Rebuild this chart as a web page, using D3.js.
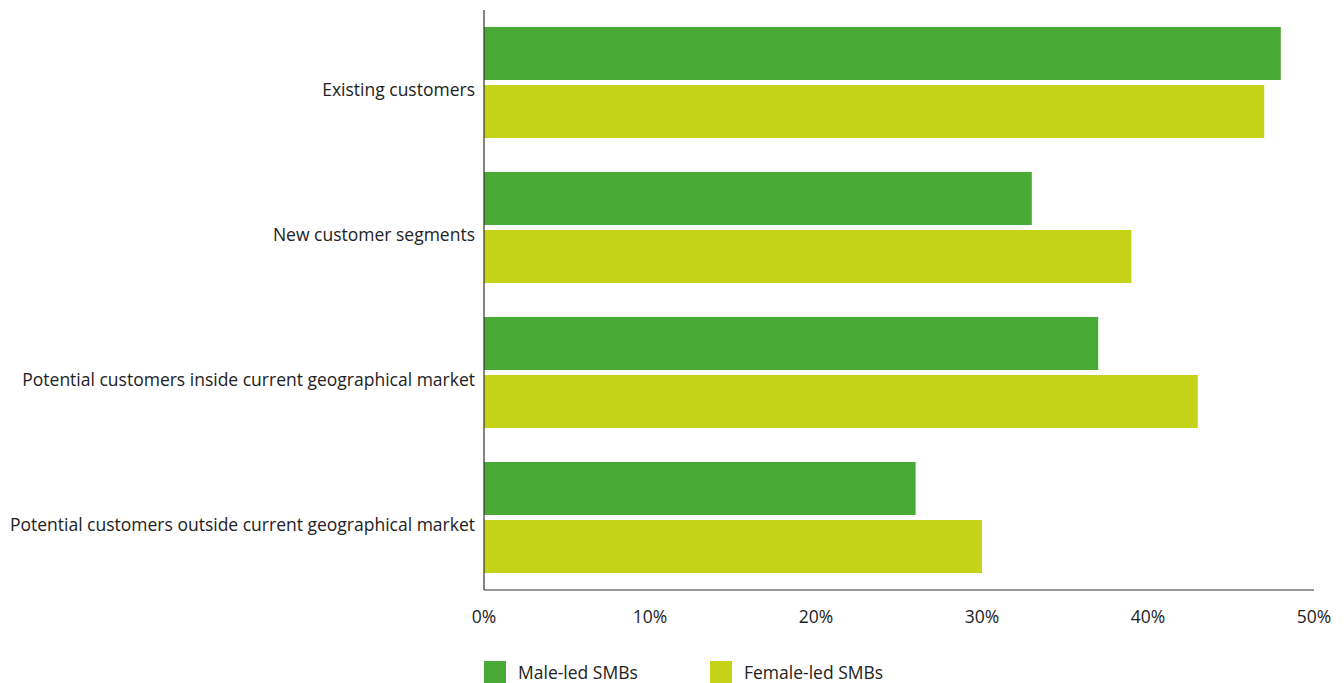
<!DOCTYPE html>
<html>
<head>
<meta charset="utf-8">
<script src="https://cdn.jsdelivr.net/npm/d3@7"></script>
<style>
  body { margin: 0; background: #fff; }
  text { font-family: "Open Sans", sans-serif; fill: #222; }
</style>
</head>
<body>
<svg id="chart"></svg>
<script>
const categories = [
  "Existing customers",
  "New customer segments",
  "Potential customers inside current geographical market",
  "Potential customers outside current geographical market",
];
const seriesNames = ["Male-led SMBs", "Female-led SMBs"];
const maleValues = [48, 33, 37, 26];
const femaleValues = [47, 39, 43, 30];
const tickValues = [0, 10, 20, 30, 40, 50];
const colors = ["#49ab36", "#c4d318"];

const width = 1344, height = 683;
const margin = { top: 10, right: 30, bottom: 93, left: 484 };
const fontSize = "17.5px";

const svg = d3.select("#chart").attr("width", width).attr("height", height);

const data = categories.map((c, i) => ({ cat: c, values: [maleValues[i], femaleValues[i]] }));

const x = d3.scaleLinear().domain([0, 50]).range([margin.left, margin.left + 830]);
const y = d3.scaleBand()
  .domain(categories)
  .range([margin.top, height - margin.bottom])
  .paddingInner(0.234)
  .paddingOuter(0.117);
const ySub = d3.scaleBand()
  .domain([0, 1])
  .range([0, y.bandwidth()])
  .paddingInner(0.086);

// Bars
const groups = svg.selectAll(".grp")
  .data(data)
  .enter()
  .append("g")
  .attr("transform", (d) => `translate(0,${y(d.cat)})`);

groups.selectAll("rect")
  .data((d) => d.values)
  .enter()
  .append("rect")
  .attr("x", x(0))
  .attr("y", (d, i) => ySub(i))
  .attr("width", (d) => x(d) - x(0))
  .attr("height", ySub.bandwidth())
  .attr("fill", (d, i) => colors[i]);

// Category labels
svg.selectAll(".cat")
  .data(categories)
  .enter()
  .append("text")
  .attr("x", x(0) - 9)
  .attr("y", (d) => y(d) + y.bandwidth() / 2 + 9)
  .attr("text-anchor", "end")
  .attr("dominant-baseline", "middle")
  .style("font-size", fontSize)
  .text((d) => d);

// Axis lines
svg.append("line")
  .attr("x1", x(0)).attr("x2", x(0))
  .attr("y1", margin.top).attr("y2", height - margin.bottom)
  .attr("stroke", "#333").attr("stroke-width", 1.2);
svg.append("line")
  .attr("x1", x(0)).attr("x2", x(50))
  .attr("y1", height - margin.bottom).attr("y2", height - margin.bottom)
  .attr("stroke", "#333").attr("stroke-width", 1.2);

// X tick labels
svg.selectAll(".tick-label")
  .data(tickValues)
  .enter()
  .append("text")
  .attr("x", (d) => x(d))
  .attr("y", 618)
  .attr("text-anchor", "middle")
  .attr("dominant-baseline", "middle")
  .style("font-size", fontSize)
  .text((d) => d + "%");

// Legend
const legendX = [484, 710];
const legend = svg.selectAll(".legend")
  .data(seriesNames)
  .enter()
  .append("g")
  .attr("transform", (d, i) => `translate(${legendX[i]},661)`);
legend.append("rect")
  .attr("width", 22)
  .attr("height", 22)
  .attr("fill", (d, i) => colors[i]);
legend.append("text")
  .attr("x", 34)
  .attr("y", 13)
  .attr("dominant-baseline", "middle")
  .style("font-size", fontSize)
  .text((d) => d);
</script>
</body>
</html>
